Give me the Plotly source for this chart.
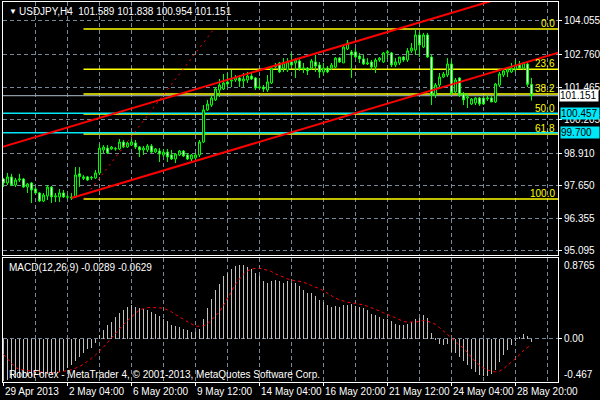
import plotly.graph_objects as go

# ---------------- data ----------------
x_label_idx = [0, 16, 32, 48, 64, 80, 96, 112, 128]
x_labels = ["29 Apr 2013", "2 May 04:00", "6 May 20:00", "9 May 12:00", "14 May 04:00",
            "16 May 20:00", "21 May 12:00", "24 May 04:00", "28 May 20:00"]

opens = [97.90, 97.745, 97.98, 97.665, 97.86, 97.90, 97.585, 97.745, 97.51, 97.355,
         97.04, 97.24, 97.585, 97.20, 97.20, 97.355, 97.20, 97.20, 97.20, 98.10,
         97.92, 97.98, 97.94, 97.94, 98.135, 99.03, 99.105, 99.07, 99.07, 99.07,
         99.34, 99.145, 99.22, 99.30, 99.145, 99.03, 99.03, 99.185, 98.95, 98.99,
         98.835, 98.95, 98.835, 98.68, 98.835, 98.99, 98.835, 98.68, 98.72, 98.835,
         99.34, 100.59, 100.78, 100.98, 101.365, 101.405, 101.68, 101.72, 101.755, 101.835,
         101.72, 101.755, 101.91, 101.835, 101.445, 101.48, 101.365, 101.64, 102.26, 102.42,
         102.22, 102.145, 102.46, 102.42, 102.50, 102.185, 102.22, 102.22, 102.46, 102.34,
         102.07, 102.22, 102.22, 102.26, 102.61, 102.42, 102.965, 102.85, 102.85, 102.69,
         102.575, 102.38, 102.46, 102.26, 102.535, 102.46, 102.81, 102.81, 102.34, 102.42,
         102.65, 102.535, 102.89, 102.925, 103.51, 103.04, 103.51, 102.65, 101.17, 101.56,
         101.87, 101.95, 102.38, 101.29, 101.835, 101.21, 101.055, 100.82, 100.86, 101.055,
         101.055, 101.015, 101.055, 100.90, 101.56, 101.95, 102.07, 102.07, 102.185, 102.38,
         102.22, 102.38, 101.589]
highs = [97.94, 98.135, 98.10, 97.94, 98.10, 97.94, 97.745, 97.78, 97.585, 97.39,
         97.355, 97.665, 97.625, 97.355, 97.51, 97.47, 97.28, 97.355, 98.365, 98.36,
         98.05, 98.02, 98.02, 98.25, 99.26, 99.22, 99.22, 99.185, 99.145, 99.46,
         99.42, 99.34, 99.46, 99.42, 99.185, 99.185, 99.26, 99.26, 99.105, 99.105,
         99.07, 99.07, 99.03, 98.91, 99.03, 99.03, 98.91, 98.87, 98.91, 99.42,
         100.78, 100.98, 101.17, 101.48, 101.795, 101.99, 102.03, 102.145, 101.95, 101.95,
         102.03, 102.07, 102.03, 101.87, 101.835, 101.56, 101.95, 102.26, 102.42, 102.46,
         102.61, 102.61, 102.81, 102.61, 102.575, 102.42, 102.26, 102.575, 102.73, 102.46,
         102.42, 102.30, 102.42, 102.65, 102.65, 103.12, 103.315, 102.925, 103.00, 102.81,
         102.73, 102.61, 102.535, 102.61, 102.65, 102.85, 102.925, 102.85, 102.61, 102.65,
         102.69, 103.00, 103.20, 103.74, 103.63, 103.59, 103.59, 102.73, 101.64, 102.03,
         102.07, 102.61, 102.535, 101.835, 101.87, 101.29, 101.25, 101.055, 101.095, 101.095,
         101.095, 101.17, 101.13, 101.64, 102.07, 102.22, 102.26, 102.42, 102.535, 102.50,
         102.46, 102.46, 101.838]
lows = [97.585, 97.665, 97.625, 97.585, 97.78, 97.55, 97.355, 96.965, 97.32, 97.00,
        97.00, 97.08, 96.965, 97.00, 97.00, 97.16, 97.12, 97.08, 97.16, 97.59,
        97.86, 97.82, 97.86, 97.90, 98.055, 98.91, 98.87, 99.03, 99.00, 99.03,
        99.105, 99.105, 99.185, 99.07, 98.755, 98.835, 98.95, 98.91, 98.91, 98.56,
        98.755, 98.56, 98.64, 98.52, 98.795, 98.755, 98.64, 98.60, 98.68, 98.755,
        99.30, 100.55, 100.705, 100.94, 101.095, 101.365, 101.48, 101.48, 101.68, 101.48,
        101.48, 101.64, 101.755, 101.365, 101.405, 101.29, 101.29, 101.60, 102.22, 102.03,
        102.07, 102.07, 102.26, 101.835, 102.11, 102.03, 101.95, 102.145, 102.07, 101.835,
        101.95, 102.03, 102.145, 102.22, 102.42, 102.42, 102.925, 101.835, 102.61, 102.42,
        102.34, 102.34, 102.145, 102.03, 102.46, 102.42, 102.575, 102.26, 102.26, 102.34,
        102.46, 102.46, 102.81, 102.73, 102.65, 103.00, 102.61, 100.78, 101.055, 101.48,
        101.835, 101.87, 101.17, 101.25, 101.095, 100.78, 100.665, 100.78, 100.78, 100.745,
        100.78, 100.94, 100.90, 100.86, 101.48, 101.87, 101.87, 102.03, 102.07, 102.22,
        102.145, 101.48, 100.954]
closes = [97.745, 97.98, 97.665, 97.86, 97.90, 97.585, 97.705, 97.47, 97.355, 97.04,
          97.275, 97.585, 97.20, 97.24, 97.355, 97.20, 97.20, 97.16, 98.055, 98.00,
          97.98, 97.86, 97.96, 98.135, 99.105, 99.145, 98.91, 99.145, 99.08, 99.34,
          99.145, 99.30, 99.34, 99.145, 99.03, 99.105, 99.185, 98.95, 99.07, 98.87,
          98.95, 98.755, 98.68, 98.87, 98.99, 98.795, 98.68, 98.835, 98.835, 99.34,
          100.59, 100.82, 101.055, 101.405, 101.56, 101.64, 101.60, 101.755, 101.87, 101.72,
          101.795, 101.91, 101.795, 101.445, 101.48, 101.405, 101.68, 102.22, 102.34, 102.07,
          102.42, 102.46, 102.34, 102.535, 102.185, 102.22, 102.11, 102.50, 102.30, 102.07,
          102.22, 102.07, 102.34, 102.61, 102.46, 103.04, 103.20, 102.73, 102.65, 102.575,
          102.38, 102.42, 102.26, 102.535, 102.61, 102.81, 102.85, 102.34, 102.46, 102.65,
          102.535, 102.89, 103.00, 103.51, 103.12, 103.51, 102.65, 101.17, 101.56, 101.87,
          101.99, 102.38, 101.25, 101.755, 101.17, 100.98, 101.095, 101.015, 101.055, 100.82,
          100.82, 101.055, 100.90, 101.60, 101.99, 102.11, 102.185, 102.22, 102.34, 102.22,
          102.42, 101.589, 101.151]

macd_main = [-0.45, -0.44, -0.43, -0.42, -0.42, -0.41, -0.40, -0.40, -0.39, -0.39,
             -0.38, -0.38, -0.37, -0.36, -0.35, -0.34,
             -0.315, -0.28, -0.237, -0.19, -0.147, -0.11, -0.09, -0.036,
             0.05, 0.097, 0.15, 0.19, 0.24, 0.287, 0.32, 0.348, 0.373, 0.348,
             0.34, 0.33, 0.32, 0.294, 0.276, 0.247, 0.222, 0.194, 0.158, 0.143,
             0.133, 0.115, 0.097, 0.079, 0.075, 0.115,
             0.215, 0.34, 0.43, 0.527, 0.60, 0.677, 0.717, 0.76, 0.785, 0.796,
             0.796, 0.778, 0.76, 0.717, 0.68, 0.624, 0.606, 0.624, 0.638, 0.624,
             0.606, 0.624, 0.606, 0.606, 0.57, 0.527, 0.498, 0.498, 0.462, 0.42,
             0.40, 0.366, 0.348, 0.355, 0.348, 0.366,
             0.366, 0.384, 0.358, 0.348, 0.34, 0.312, 0.276, 0.258, 0.24, 0.215,
             0.215, 0.197, 0.168, 0.15, 0.15, 0.16, 0.186, 0.222, 0.233, 0.265,
             0.23, 0.07, 0.007,
             -0.047, -0.065, -0.047, -0.136, -0.154, -0.19, -0.237, -0.28, -0.32, -0.35,
             -0.387, -0.394, -0.394, -0.38, -0.333, -0.244, -0.172, -0.118, -0.065, -0.01,
             0.025, 0.054, 0.032, -0.0289]
macd_signal = [-0.17, -0.22, -0.27, -0.31, -0.33, -0.34, -0.345, -0.35, -0.355, -0.36,
               -0.365, -0.37, -0.37, -0.365, -0.36, -0.35,
               -0.345, -0.335, -0.32, -0.30, -0.275, -0.245, -0.21, -0.175, -0.136, -0.09,
               -0.04, 0.01, 0.06, 0.115, 0.155, 0.195,
               0.24, 0.275, 0.31, 0.325, 0.335, 0.337, 0.336, 0.333, 0.33, 0.31,
               0.29, 0.26, 0.235, 0.204, 0.18, 0.155,
               0.135, 0.135, 0.14, 0.16, 0.20, 0.245, 0.29, 0.36, 0.43, 0.51,
               0.588, 0.64, 0.70, 0.73, 0.753, 0.758,
               0.76, 0.75, 0.738, 0.725, 0.70, 0.685, 0.665, 0.645, 0.633, 0.623,
               0.62, 0.61, 0.595, 0.573, 0.558, 0.54,
               0.518, 0.49, 0.46, 0.437, 0.42, 0.405, 0.394, 0.388, 0.382, 0.375,
               0.365, 0.35, 0.335, 0.32, 0.30, 0.28,
               0.265, 0.245, 0.225, 0.205, 0.186, 0.18, 0.176, 0.18, 0.188, 0.196,
               0.19, 0.175, 0.155, 0.12, 0.085, 0.05,
               0.01, -0.03, -0.07, -0.10, -0.15, -0.20, -0.25, -0.285, -0.315, -0.335,
               -0.352, -0.358, -0.35, -0.325, -0.29, -0.255,
               -0.215, -0.175, -0.125, -0.09, -0.0629]

price_ticks = [104.055, 102.760, 101.465, 100.205, 98.910, 97.650, 96.355, 95.095]
macd_max, macd_min = 0.8765, -0.467

fib_low_idx, fib_low = 20, 97.12
fib_high_idx, fib_high = 52.6, 103.74
fib_ratios = [0.0, 23.6, 38.2, 50.0, 61.8, 100.0]

channel_idx = [17, 132]
channel_low = [97.16, 102.51]
channel_width = 2.79

cyan_levels = [100.457, 99.700]

# ---------------- styles ----------------
FONT = "Liberation Sans, Arial, sans-serif"
GRID = "#778899"
GRIDDASH = "4px,3px"
LIME = "#00ff00"
CYAN = "#00e8f8"
XR = [-0.125, 138.625]
YR = [94.938, 104.795]

n = len(opens)
xs = list(range(n))

fig = go.Figure()
fig.add_trace(go.Candlestick(
    x=xs, open=opens, high=highs, low=lows, close=closes,
    increasing=dict(line=dict(color=LIME, width=1), fillcolor="black"),
    decreasing=dict(line=dict(color=LIME, width=1), fillcolor="white"),
    whiskerwidth=0, xaxis="x", yaxis="y", hoverinfo="skip"))

fig.add_trace(go.Bar(x=xs, y=macd_main, width=0.25, marker=dict(color="#c0c0c0", line=dict(width=0)),
                     xaxis="x2", yaxis="y2", hoverinfo="skip"))
fig.add_trace(go.Scatter(x=xs, y=macd_signal, mode="lines",
                         line=dict(color="#ff0000", width=1, dash="3px,3px"),
                         xaxis="x2", yaxis="y2", hoverinfo="skip"))

shapes = []
# fibonacci levels
for r in fib_ratios:
    lvl = fib_high - r / 100.0 * (fib_high - fib_low)
    shapes.append(dict(type="line", xref="x", yref="y", x0=fib_low_idx, x1=160, y0=lvl, y1=lvl,
                       line=dict(color="#ffff00", width=1.5), layer="between"))
# horizontal cyan lines and bid line
for lv in cyan_levels:
    shapes.append(dict(type="line", xref="x", yref="y", x0=-5, x1=160, y0=lv, y1=lv,
                       line=dict(color=CYAN, width=1.5), layer="between"))
shapes.append(dict(type="line", xref="x", yref="y", x0=-5, x1=160, y0=closes[-1], y1=closes[-1],
                   line=dict(color="#8c9aa5", width=1.2), layer="between"))
# fib diagonal
shapes.append(dict(type="line", xref="x", yref="y", x0=fib_low_idx, y0=fib_low, x1=fib_high_idx, y1=fib_high,
                   line=dict(color="#ff0000", width=1, dash="2px,4px"), layer="above"))
# channel
slope = (channel_low[1] - channel_low[0]) / (channel_idx[1] - channel_idx[0])
xe = 160
shapes.append(dict(type="line", xref="x", yref="y", x0=channel_idx[0], y0=channel_low[0],
                   x1=xe, y1=channel_low[0] + slope * (xe - channel_idx[0]),
                   line=dict(color="#ff0000", width=2), layer="above"))
xs0 = -5
shapes.append(dict(type="line", xref="x", yref="y",
                   x0=xs0, y0=channel_low[0] + channel_width + slope * (xs0 - channel_idx[0]),
                   x1=xe, y1=channel_low[0] + channel_width + slope * (xe - channel_idx[0]),
                   line=dict(color="#ff0000", width=2), layer="above"))

ann = []
def txt(x, y, t, xanchor="left", yanchor="middle", color="white", size=10, xref="paper", yref="paper", **kw):
    d = dict(x=x, y=y, xref=xref, yref=yref, text=t, showarrow=False, xanchor=xanchor, yanchor=yanchor,
             font=dict(family=FONT, size=size, color=color))
    d.update(kw)
    ann.append(d)

# title
txt(0.0075, 0.976, "▼", size=8)
txt(0.026, 0.976, "USDJPY,H4  %.3f %.3f %.3f %.3f" % (opens[-1], highs[-1], lows[-1], closes[-1]))
# fib labels
for r in fib_ratios:
    lvl = fib_high - r / 100.0 * (fib_high - fib_low)
    txt(1, lvl, "%.1f" % r, xanchor="right", yanchor="bottom", color="#ffff00", yref="y", xshift=-1, yshift=-2)
# price boxes
txt(1, closes[-1], "%.3f" % closes[-1], color="black", yref="y", bgcolor="white", width=38, align="left",
    borderpad=0, xshift=1)
for lv in cyan_levels:
    txt(1, lv, "%.3f" % lv, color="black", yref="y", bgcolor=CYAN, width=38, align="left",
        borderpad=0, xshift=2)
# macd texts
txt(0.0072, 0.3026, "MACD(12,26,9) %.4f %.4f" % (macd_main[-1], macd_signal[-1]))
txt(0.0072, 0.021, "RoboForex - MetaTrader 4, © 2001-2013, MetaQuotes Software Corp.")
txt(1, macd_max, "%.4f" % macd_max, yref="y2", yanchor="top", xshift=4)
txt(1, macd_min, "%.3f" % macd_min, yref="y2", yanchor="bottom", xshift=4)
# x labels
for i, t in zip(x_label_idx, x_labels):
    txt(i, -0.026, t, xref="x2", xshift=-1)

axis_common = dict(showline=True, linecolor="white", linewidth=1, mirror=True, zeroline=False,
                   fixedrange=True)
xgrid = dict(showgrid=True, gridcolor=GRID, griddash=GRIDDASH, gridwidth=1,
             minor=dict(tickmode="linear", tick0=0, dtick=8, showgrid=True, gridcolor=GRID,
                        griddash=GRIDDASH, gridwidth=1, ticks=""))

fig.update_layout(
    width=600, height=400,
    margin=dict(l=3, r=42, t=2, b=18),
    paper_bgcolor="black", plot_bgcolor="black",
    showlegend=False, bargap=0,
    font=dict(family=FONT, size=10, color="white"),
    xaxis=dict(domain=[0, 1], range=XR, anchor="y", tickmode="array", tickvals=x_label_idx,
               showticklabels=False, ticks="", rangeslider=dict(visible=False), **xgrid, **axis_common),
    yaxis=dict(domain=[0.33421, 1], range=YR, anchor="x", side="right", tickmode="array",
               tickvals=price_ticks, ticktext=["%.3f" % v for v in price_ticks],
               ticks="outside", ticklen=3, tickcolor="white",
               tickfont=dict(family=FONT, size=10, color="white"),
               showgrid=True, gridcolor=GRID, griddash=GRIDDASH, automargin=False, **axis_common),
    xaxis2=dict(domain=[0, 1], range=XR, anchor="y2", tickmode="array", tickvals=x_label_idx,
                ticktext=[""] * len(x_label_idx), ticks="outside", ticklen=3, tickcolor="white",
                automargin=False, **xgrid, **axis_common),
    yaxis2=dict(domain=[0, 0.32763], range=[macd_min, macd_max], anchor="x2", side="right",
                tickmode="array", tickvals=[0], ticktext=["0.00"], ticks="outside", ticklen=3,
                tickcolor="white", tickfont=dict(family=FONT, size=10, color="white"),
                showgrid=True, gridcolor=GRID, griddash=GRIDDASH, automargin=False, **axis_common),
    shapes=shapes, annotations=ann,
)

fig.write_html("out.html", config={"displayModeBar": False},
               post_script="document.body.style.margin='0px';document.body.style.padding='0px';"
                           "document.body.style.background='black';")
